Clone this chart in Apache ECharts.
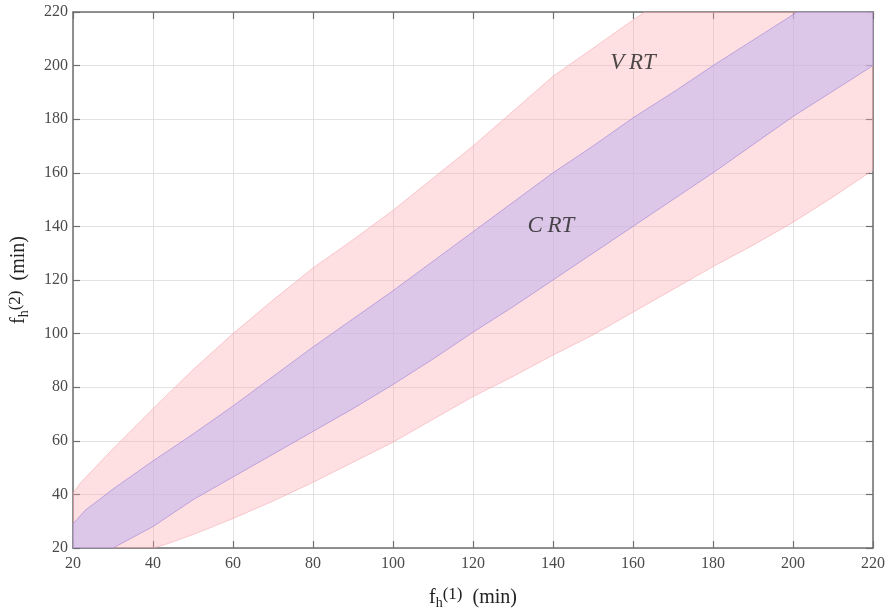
<!DOCTYPE html>
<html>
<head>
<meta charset="utf-8">
<script src="https://cdn.jsdelivr.net/npm/echarts@6/dist/echarts.min.js"></script>
<style>
html,body{margin:0;padding:0;background:#fff;}
#main{width:888px;height:613px;}
</style>
</head>
<body>
<div id="main"></div>
<script>
// Axis ticks
const xTicks = [20, 40, 60, 80, 100, 120, 140, 160, 180, 200, 220];
const yTicks = [20, 40, 60, 80, 100, 120, 140, 160, 180, 200, 220];

// VRT region (pink) boundaries [x, y]
const vrtUpper = [[20,40.5],[22,44.5],[30,57],[40,72],[50,86.5],[60,100],[70,112.5],[80,124.5],[90,135],[100,146],[110,158],[120,170],[130,183],[140,196],[150,206.5],[160,217],[163,220]];
const vrtLower = [[40,20],[42.5,21],[50,25],[60,31],[70,37.5],[80,44.5],[90,52],[100,59.5],[110,68],[120,76.5],[130,84],[140,92],[150,99.5],[160,108],[170,116.5],[180,125],[190,133],[200,141.5],[210,151],[220,161]];

// CRT region (purple) boundaries [x, y]
const crtUpper = [[20,29],[23,34],[30,42],[40,52.5],[50,62.5],[60,73],[70,84],[80,95],[90,105.5],[100,116],[110,127],[120,138],[130,149],[140,160],[150,170],[160,180.5],[170,190],[180,200],[190,209.5],[200,219],[201,220]];
const crtLower = [[30,20],[35,24],[40,28],[50,38],[60,46.5],[70,55],[80,63.5],[90,72],[100,81],[110,90.5],[120,100.5],[130,110],[140,120],[150,130],[160,140],[170,150],[180,160],[190,170.5],[200,181],[210,190.5],[220,200]];

// Region labels [x, y, text]
const regionLabels = [[160, 201, 'V\u2009RT'], [139.5, 140, 'C\u2009RT']];

const X_MIN = xTicks[0], X_MAX = xTicks[xTicks.length-1];
const Y_MIN = yTicks[0], Y_MAX = yTicks[yTicks.length-1];

function bandPolygon(upper, lower) {
  // upper boundary, top-right corner, lower boundary reversed, bottom-left corner
  return upper.concat([[X_MAX, Y_MAX]], lower.slice().reverse(), [[X_MIN, Y_MIN]]);
}

function bandSeries(poly, fill, stroke) {
  return {
    type: 'custom',
    clip: true,
    silent: true,
    data: [[X_MIN, Y_MIN]],
    renderItem: function (params, api) {
      const pts = poly.map(p => api.coord(p));
      return {
        type: 'polygon',
        shape: { points: pts },
        style: { fill: fill, stroke: stroke, lineWidth: 1 }
      };
    }
  };
}

const serif = '"Liberation Serif", "DejaVu Serif", serif';
const axisColor = '#6e6e6e';
const labelStyle = { color: '#4a4a4a', fontFamily: serif, fontSize: 16 };

const chart = echarts.init(document.getElementById('main'), null, { renderer: 'canvas' });

const nameRich = {
  b: { fontFamily: serif, fontSize: 20, color: '#222' },
  sub: { fontFamily: serif, fontSize: 14, color: '#222', verticalAlign: 'bottom', padding: [8, 0, 0, 0] },
  sup: { fontFamily: serif, fontSize: 17, color: '#222', verticalAlign: 'top', padding: [0, 0, 7, 0] }
};

chart.setOption({
  animation: false,
  backgroundColor: '#fff',
  grid: { left: 73, right: 15, top: 12, bottom: 65, containLabel: false, outerBoundsMode: 'none' },
  xAxis: [{
    type: 'value', min: X_MIN, max: X_MAX, interval: 20, position: 'bottom',
    axisLine: { show: true, lineStyle: { color: axisColor, width: 1.5 } },
    axisTick: { show: true, inside: true, length: 7, lineStyle: { color: axisColor, width: 1.2 } },
    splitLine: { show: true, lineStyle: { color: '#e2e2e2', width: 1 } },
    axisLabel: Object.assign({ margin: 8 }, labelStyle),
    name: '{b|f}{sub|h}{sup|(1)}{b|  (min)}',
    nameLocation: 'middle', nameGap: 38,
    nameTextStyle: { rich: nameRich }
  }, {
    type: 'value', min: X_MIN, max: X_MAX, interval: 20, position: 'top',
    axisLine: { show: true, lineStyle: { color: axisColor, width: 1.5 } },
    axisTick: { show: true, inside: true, length: 7, lineStyle: { color: axisColor, width: 1.2 } },
    splitLine: { show: false }, axisLabel: { show: false }
  }],
  yAxis: [{
    type: 'value', min: Y_MIN, max: Y_MAX, interval: 20, position: 'left',
    axisLine: { show: true, lineStyle: { color: axisColor, width: 1.5 } },
    axisTick: { show: true, inside: true, length: 7, lineStyle: { color: axisColor, width: 1.2 } },
    splitLine: { show: true, lineStyle: { color: '#e2e2e2', width: 1 } },
    axisLabel: Object.assign({ margin: 5 }, labelStyle),
    name: '{b|f}{sub|h}{sup|(2)}{b|  (min)}',
    nameLocation: 'middle', nameGap: 42, nameRotate: 90,
    nameTextStyle: { rich: nameRich }
  }, {
    type: 'value', min: Y_MIN, max: Y_MAX, interval: 20, position: 'right',
    axisLine: { show: true, lineStyle: { color: axisColor, width: 1.5 } },
    axisTick: { show: true, inside: true, length: 7, lineStyle: { color: axisColor, width: 1.2 } },
    splitLine: { show: false }, axisLabel: { show: false }
  }],
  series: [
    bandSeries(bandPolygon(vrtUpper, vrtLower), 'rgba(252,170,176,0.36)', 'rgba(245,170,178,0.6)'),
    bandSeries(bandPolygon(crtUpper, crtLower), 'rgba(199,181,237,0.6)', 'rgba(170,140,215,0.7)'),
    {
      type: 'scatter', symbolSize: 0, silent: true,
      data: regionLabels.map(d => ({ value: [d[0], d[1]], name: d[2] })),
      label: {
        show: true, position: 'inside', formatter: p => p.name,
        fontFamily: serif, fontStyle: 'italic', fontSize: 23, color: '#222'
      },
      z: 5
    }
  ]
});
</script>
</body>
</html>
